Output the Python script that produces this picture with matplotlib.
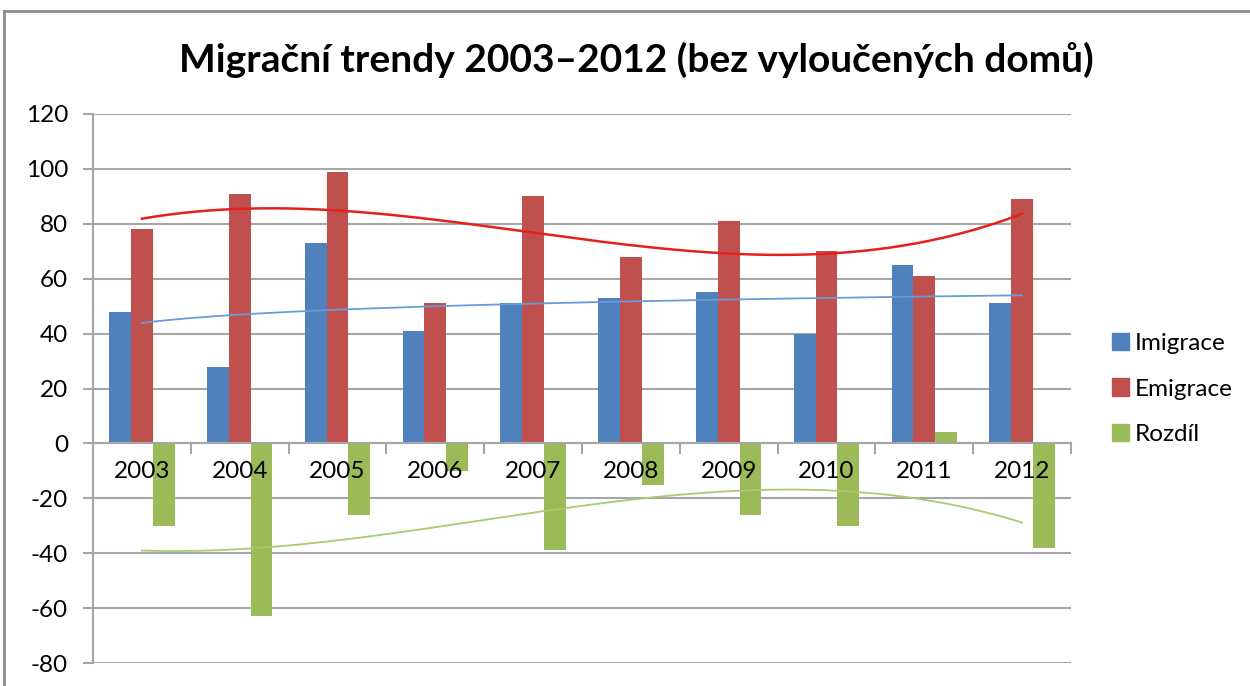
import numpy as np
import matplotlib
matplotlib.use("Agg")
from matplotlib import pyplot as plt
from matplotlib.patches import Patch
from matplotlib.lines import Line2D

plt.rcParams['font.family'] = ['Lato', 'DejaVu Sans']
plt.rcParams['axes.unicode_minus'] = False

years = ['2003', '2004', '2005', '2006', '2007', '2008', '2009', '2010', '2011', '2012']
imigrace = [48, 28, 73, 41, 51, 53, 55, 40, 65, 51]
emigrace = [78, 91, 99, 51, 90, 68, 81, 70, 61, 89]
rozdil = [-30, -63, -26, -10, -39, -15, -26, -30, 4, -38]

c_imi = '#4F81BD'
c_emi = '#C0504D'
c_roz = '#9BBB59'

fig = plt.figure(figsize=(12.5, 6.86), dpi=100)
ax = fig.add_axes([93/1250, 1-663/686, (1071-93)/1250, (663-114)/686])

x = np.arange(len(years))
w = 0.223
ax.bar(x - w, imigrace, w, color=c_imi, zorder=1)
ax.bar(x, emigrace, w, color=c_emi, zorder=1)
ax.bar(x + w, rozdil, w, color=c_roz, zorder=1)

# trendlines like Excel: log for imigrace, polynomial (3) for the others
k = x + 1.0
xs = np.linspace(1, 10, 200)
b, a = np.polyfit(np.log(k), imigrace, 1)
ax.plot(xs - 1, a + b*np.log(xs), color='#6A9BD8', lw=1.3, zorder=3)
p = np.polyfit(k, emigrace, 3)
ax.plot(xs - 1, np.polyval(p, xs), color='#E3201E', lw=1.8, zorder=3)
p = np.polyfit(k, rozdil, 3)
ax.plot(xs - 1, np.polyval(p, xs), color='#A8CB6C', lw=1.3, zorder=3)

ax.set_xlim(-0.5, len(years) - 0.5)
ax.set_ylim(-80, 120)
ax.set_yticks(np.arange(-80, 121, 20))
for t in ax.get_yticks():
    ax.axhline(t, color='#A6A6A6', lw=1.5, zorder=0.5)

for s in ['top', 'right']:
    ax.spines[s].set_visible(False)
ax.spines['left'].set_color('#A6A6A6')
ax.spines['left'].set_linewidth(1.5)
ax.spines['bottom'].set_position(('data', 0))
ax.spines['bottom'].set_color('#A6A6A6')
ax.spines['bottom'].set_linewidth(1.5)

ax.set_xticks(x)
ax.set_xticklabels(years)
ax.set_xticks(np.arange(0.5, len(years), 1), minor=True)
ax.tick_params(axis='x', which='major', length=0, pad=13, labelsize=17.5)
ax.tick_params(axis='x', which='minor', length=8, width=1.5, color='#A6A6A6', direction='out')
ax.tick_params(axis='y', length=7, width=1.5, color='#A6A6A6', labelsize=17.5, pad=11)

fig.text(0.509, 1-60/686, 'Migrační trendy 2003–2012 (bez vyloučených domů)',
         ha='center', va='center', fontsize=28, fontweight='bold')

handles = [Patch(color=c_imi), Patch(color=c_emi), Patch(color=c_roz)]
fig.legend(handles, ['Imigrace', 'Emigrace', 'Rozdíl'], loc='center left',
           bbox_to_anchor=(1090/1250, 1-389/686), frameon=False, fontsize=17.5,
           handlelength=0.7, handleheight=0.7, handletextpad=0.25, labelspacing=1.0)

fig.add_artist(Line2D([4/1250, 4/1250], [0, 1-11/686], color='#8C8C8C', lw=2))
fig.add_artist(Line2D([4/1250, 1], [1-11/686, 1-11/686], color='#8C8C8C', lw=2))

fig.savefig('out.png', dpi=100)
